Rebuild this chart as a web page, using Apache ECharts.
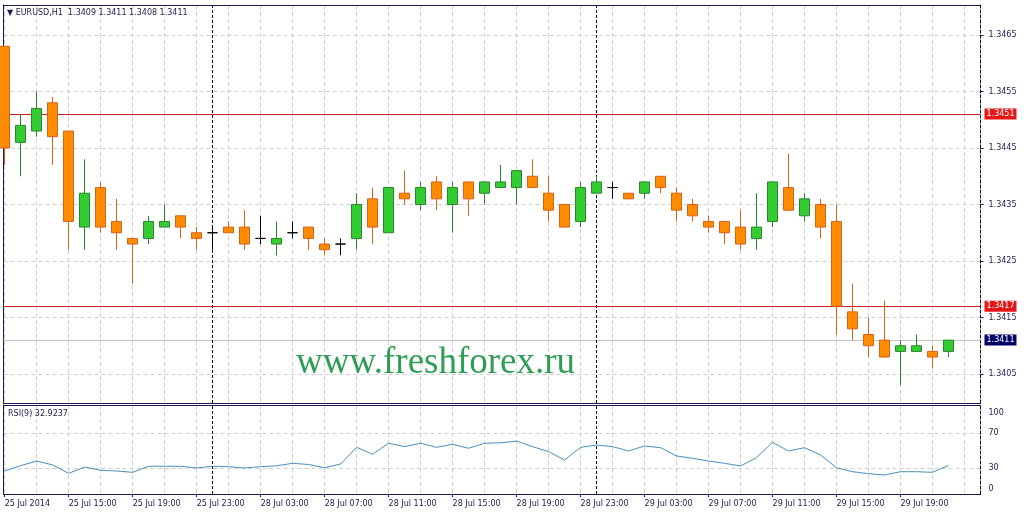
<!DOCTYPE html>
<html><head><meta charset="utf-8">
<script src="https://cdn.jsdelivr.net/npm/echarts@6/dist/echarts.min.js"></script>
<style>html,body{margin:0;padding:0;background:#fff}#c{width:1025px;height:515px}</style>
</head><body><div id="c"></div>
<script>
// ---- data (EURUSD H1, 25 Jul 2014 11:00 .. 29 Jul 2014 22:00) ----
const symbol = 'EURUSD,H1';
const opens  = [1.3463,1.3446,1.3448,1.3453,1.3448,1.3431,1.3438,1.3432,1.3429,1.3429,
                1.3431,1.3433,1.3430,1.3430,1.3431,1.3431,1.3429,1.3428,1.3430,1.3431,
                1.3428,1.3428,1.3429,1.3436,1.3430,1.3437,1.3435,1.3439,1.3435,1.3439,
                1.3437,1.3438,1.3438,1.3440,1.3437,1.3435,1.3432,1.3437,1.3438,1.3437,
                1.3437,1.3440,1.3437,1.3435,1.3432,1.3432,1.3431,1.3429,1.3432,1.3438,
                1.3433,1.3435,1.3432,1.3416,1.3412,1.3411,1.3409,1.3409,1.3409,1.3409];
const highs  = [1.3463,1.3451,1.3455,1.3454,1.3448,1.3443,1.3439,1.3436,1.3429,1.3433,
                1.3435,1.3433,1.3431,1.3431,1.3432,1.3434,1.3433,1.3432,1.3432,1.3431,
                1.3429,1.3429,1.3437,1.3438,1.3438,1.3441,1.3439,1.3440,1.3439,1.3439,
                1.3439,1.3442,1.3441,1.3443,1.3440,1.3435,1.3439,1.3440,1.3439,1.3437,
                1.3439,1.3440,1.3438,1.3436,1.3433,1.3432,1.3434,1.3437,1.3439,1.3444,
                1.3437,1.3436,1.3435,1.3421,1.3415,1.3418,1.3411,1.3412,1.3410,1.3411];
const lows   = [1.3442,1.3440,1.3447,1.3442,1.3427,1.3427,1.3430,1.3427,1.3421,1.3428,
                1.3431,1.3429,1.3427,1.3427,1.3430,1.3427,1.3428,1.3426,1.3429,1.3427,
                1.3426,1.3426,1.3427,1.3428,1.3430,1.3435,1.3434,1.3434,1.3430,1.3433,
                1.3435,1.3438,1.3435,1.3438,1.3432,1.3431,1.3431,1.3437,1.3436,1.3436,
                1.3436,1.3437,1.3432,1.3432,1.3430,1.3428,1.3427,1.3427,1.3431,1.3434,
                1.3432,1.3429,1.3412,1.3411,1.3408,1.3408,1.3403,1.3409,1.3406,1.3408];
const closes = [1.3445,1.3449,1.3452,1.3447,1.3432,1.3437,1.3431,1.3430,1.3428,1.3432,
                1.3432,1.3431,1.3429,1.3430,1.3430,1.3428,1.3429,1.3429,1.3430,1.3429,
                1.3427,1.3428,1.3435,1.3431,1.3438,1.3436,1.3438,1.3436,1.3438,1.3436,
                1.3439,1.3439,1.3441,1.3438,1.3434,1.3431,1.3438,1.3439,1.3438,1.3436,
                1.3439,1.3438,1.3434,1.3433,1.3431,1.3430,1.3428,1.3431,1.3439,1.3434,
                1.3436,1.3431,1.3417,1.3413,1.3410,1.3408,1.3410,1.3410,1.3408,1.3411];
const rsi    = [26.5,32.7,38.0,33.5,23.8,31.0,27.3,26.5,25.0,32.0,
                32.0,32.0,30.0,32.0,31.5,30.0,31.5,32.5,35.4,34.0,
                30.3,34.6,53.8,45.8,58.5,54.6,58.5,53.8,57.3,52.7,
                58.5,59.0,61.0,54.6,48.8,39.2,53.8,56.5,54.6,49.6,
                55.4,53.4,43.8,41.2,38.0,35.4,32.3,41.9,59.6,49.6,
                53.4,45.0,30.3,25.7,23.4,21.9,25.7,25.7,25.0,32.9237];
const timeTickIdx = [0,4,8,12,16,20,24,28,32,36,40,44,48,52,56];
const timeTickLabels = ['25 Jul 2014','25 Jul 15:00','25 Jul 19:00','25 Jul 23:00','28 Jul 03:00',
                        '28 Jul 07:00','28 Jul 11:00','28 Jul 15:00','28 Jul 19:00','28 Jul 23:00',
                        '29 Jul 03:00','29 Jul 07:00','29 Jul 11:00','29 Jul 15:00','29 Jul 19:00'];
const dayStartIdx = [13, 37];
const priceTicks = [1.3405,1.3415,1.3425,1.3435,1.3445,1.3455,1.3465];
const levelLines = [1.3451, 1.3417];
const bidPrice = 1.3411;
const rsiTicks = [0,30,70,100];
const rsiLevels = [30,70];
const rsiPeriod = 9;

// ---- chart ----
const FONT = 'DejaVu Sans';
const NAVY = '#1c1c50';
const GRIDC = '#cfcfcf';
const XMIN = -0.075, XMAX = 61;
const vGrid = []; for (let i = 0; i <= 60; i += 2) vGrid.push(i);
const last = opens.length - 1;

const candleData = opens.map((o, i) => [i, o, closes[i], lows[i], highs[i]]);
const rsiData = rsi.map((v, i) => [i, v]);

const sepLines = dayStartIdx.map(d => ({ xAxis: d }));
const lvl = (v, bg, lc) => ({
  yAxis: v,
  lineStyle: { color: lc, type: 'solid', width: 1 },
  label: { show: true, position: 'end', formatter: v.toFixed(4), backgroundColor: bg, color: '#fff',
           padding: [2, 2, 1, 2], distance: 4, fontSize: 8, fontFamily: FONT }
});

const chart = echarts.init(document.getElementById('c'), null, { renderer: 'canvas' });
chart.setOption({
  animation: false,
  backgroundColor: '#ffffff',
  textStyle: { fontFamily: FONT },
  title: [
    { text: '\u25BC ' + symbol + '  ' + [opens[last], highs[last], lows[last], closes[last]].map(v => v.toFixed(4)).join(' '),
      left: 7, top: 9, padding: 0,
      textStyle: { fontSize: 8, fontWeight: 'normal', color: NAVY, fontFamily: FONT } },
    { text: 'RSI(' + rsiPeriod + ') ' + rsi[last].toFixed(4),
      left: 8, top: 410, padding: 0,
      textStyle: { fontSize: 8, fontWeight: 'normal', color: NAVY, fontFamily: FONT } }
  ],
  graphic: [
    { type: 'text', left: 296, top: 345, z: 1,
      style: { text: 'www.freshforex.ru', font: '37px "Liberation Serif"', fill: '#2e9e55' } }
  ],
  grid: [
    { left: 3.5, right: 44.5, top: 5, height: 398 },
    { left: 3.5, right: 44.5, top: 405, height: 89 }
  ],
  xAxis: [
    { gridIndex: 0, type: 'value', min: XMIN, max: XMAX, position: 'bottom',
      axisLine: { show: true, onZero: false, lineStyle: { color: NAVY } },
      axisTick: { show: false, customValues: vGrid }, axisLabel: { show: false },
      splitLine: { show: true, lineStyle: { color: GRIDC, type: [4, 3] } } },
    { gridIndex: 0, type: 'value', min: XMIN, max: XMAX, position: 'top',
      axisLine: { show: true, onZero: false, lineStyle: { color: NAVY } },
      axisTick: { show: false }, axisLabel: { show: false }, splitLine: { show: false } },
    { gridIndex: 1, type: 'value', min: XMIN, max: XMAX, position: 'bottom',
      axisLine: { show: true, onZero: false, lineStyle: { color: NAVY } },
      axisTick: { show: true, length: 3, customValues: timeTickIdx, lineStyle: { color: NAVY } },
      axisLabel: { show: true, customValues: timeTickIdx, align: 'left', margin: 6, fontSize: 8, color: NAVY, fontFamily: FONT,
                   formatter: v => timeTickLabels[timeTickIdx.indexOf(Math.round(v))] || '' },
      splitLine: { show: false } },
    { gridIndex: 1, type: 'value', min: XMIN, max: XMAX, position: 'top',
      axisLine: { show: true, onZero: false, lineStyle: { color: NAVY } },
      axisTick: { show: false, customValues: vGrid }, axisLabel: { show: false },
      splitLine: { show: true, lineStyle: { color: GRIDC, type: [4, 3] } } }
  ],
  yAxis: [
    { gridIndex: 0, type: 'value', position: 'right', min: 1.339987, max: 1.347031,
      axisLine: { show: true, onZero: false, lineStyle: { color: '#000', type: [3, 2] } },
      axisTick: { show: true, length: 3, customValues: priceTicks, lineStyle: { color: NAVY } },
      axisLabel: { show: true, customValues: priceTicks, margin: 8, fontSize: 8, color: NAVY, fontFamily: FONT,
                   formatter: v => v.toFixed(4) },
      splitLine: { show: true, lineStyle: { color: GRIDC, type: [4, 3] } } },
    { gridIndex: 0, type: 'value', position: 'left', min: 1.339987, max: 1.347031,
      axisLine: { show: true, onZero: false, lineStyle: { color: NAVY } },
      axisTick: { show: false }, axisLabel: { show: false }, splitLine: { show: false } },
    { gridIndex: 1, type: 'value', position: 'right', min: 0, max: 102.6,
      axisLine: { show: true, onZero: false, lineStyle: { color: '#000', type: [3, 2] } },
      axisTick: { show: false, customValues: rsiLevels },
      axisLabel: { show: true, customValues: rsiTicks, margin: 8, fontSize: 8, color: NAVY, fontFamily: FONT,
                   formatter: v => v === 100 ? '{t|100}' : (v === 0 ? '{b|0}' : String(v)),
                   rich: { t: { padding: [11, 0, 0, 0], fontSize: 8, color: NAVY }, b: { padding: [0, 0, 10, 0], fontSize: 8, color: NAVY } } },
      splitLine: { show: true, lineStyle: { color: GRIDC, type: [4, 3] } } },
    { gridIndex: 1, type: 'value', position: 'left', min: 0, max: 102.6,
      axisLine: { show: true, onZero: false, lineStyle: { color: NAVY } },
      axisTick: { show: false }, axisLabel: { show: false }, splitLine: { show: false } }
  ],
  series: [
    { name: 'levels', type: 'line', xAxisIndex: 0, yAxisIndex: 0, data: [], z: 1, silent: true,
      markLine: { symbol: 'none', silent: true, animation: false, precision: 4, z: 1,
        data: [
          lvl(bidPrice, '#000066', '#c4c4c4'),
          lvl(levelLines[0], '#e51616', '#d02020'),
          lvl(levelLines[1], '#e51616', '#d02020'),
          ...sepLines.map(s => Object.assign({}, s, { lineStyle: { color: '#000', type: [3, 2], width: 1 }, label: { show: false } }))
        ] } },
    { name: symbol, type: 'candlestick', xAxisIndex: 0, yAxisIndex: 0, z: 3,
      barWidth: 10, data: candleData,
      itemStyle: { color: '#33cc33', color0: '#ff8c00', borderColor: '#2b862b', borderColor0: '#d8621a',
                   borderColorDoji: '#000000', borderWidth: 1 } },
    { name: 'RSI', type: 'line', xAxisIndex: 2, yAxisIndex: 2, data: rsiData, symbol: 'none', z: 3,
      lineStyle: { color: '#4a8fbd', width: 1 },
      markLine: { symbol: 'none', silent: true, animation: false, label: { show: false }, z: 1,
        data: sepLines.map(s => Object.assign({}, s, { lineStyle: { color: '#000', type: [3, 2], width: 1 } })) } }
  ]
});
</script>
</body></html>
